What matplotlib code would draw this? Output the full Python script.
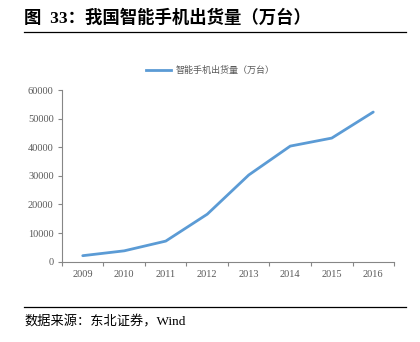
import matplotlib.pyplot as plt
from matplotlib.lines import Line2D

plt.rcParams['font.family'] = ['Noto Sans CJK SC', 'DejaVu Sans']
mixed = ['Liberation Serif', 'Noto Sans CJK SC']

years = ['2009', '2010', '2011', '2012', '2013', '2014', '2015', '2016']
shipments = [2100, 3800, 7200, 16600, 30300, 40400, 43200, 52300]
series_name = '智能手机出货量（万台）'
title = '图  33：我国智能手机出货量（万台）'
source = '数据来源：东北证券，Wind'

fig = plt.figure(figsize=(4.2, 3.42), dpi=100)
ax = fig.add_axes([0.1476, 0.2348, 0.7905, 0.502])

x = list(range(len(years)))
ax.plot(x, shipments, color='#5B9BD5', linewidth=2.0, solid_capstyle='round')

ax.set_xlim(-0.5, len(years) - 0.5)
ax.set_ylim(0, 60000)
ax.set_yticks(range(0, 60001, 10000))
ax.set_yticklabels([str(v) for v in range(0, 60001, 10000)],
                   fontfamily='Liberation Serif', fontsize=7.5, color='#595959')

# category boundaries get the tick marks, labels sit in the middle
ax.set_xticks([i - 0.5 for i in range(len(years) + 1)])
ax.set_xticklabels([])
ax.set_xticks(x, minor=True)
ax.set_xticklabels(years, minor=True, fontfamily='Liberation Serif',
                   fontsize=7.5, color='#595959')
ax.tick_params(axis='x', which='minor', length=0, pad=6)
ax.tick_params(axis='x', which='major', length=3, color='#868686', width=0.8)
ax.tick_params(axis='y', length=3, color='#868686', width=0.8, pad=3)

for s in ['top', 'right']:
    ax.spines[s].set_visible(False)
for s in ['left', 'bottom']:
    ax.spines[s].set_color('#868686')
    ax.spines[s].set_linewidth(0.8)

handle = Line2D([], [], color='#5B9BD5', linewidth=2.0)
fig.legend([handle], [series_name], loc='center', bbox_to_anchor=(0.5, 0.795),
           frameon=False, fontsize=6.5, handlelength=2.8, handletextpad=0.5,
           labelcolor='#595959')

fig.text(0.058, 0.947, title, fontsize=12.5, fontweight='bold', family=mixed,
         ha='left', va='center')
fig.add_artist(Line2D([0.057, 0.967], [0.906, 0.906], color='black', linewidth=0.9))
fig.add_artist(Line2D([0.057, 0.967], [0.102, 0.102], color='black', linewidth=0.9))
fig.text(0.058, 0.058, source, fontsize=9.5, family=mixed, ha='left', va='center')

fig.savefig('out.png', dpi=100)
